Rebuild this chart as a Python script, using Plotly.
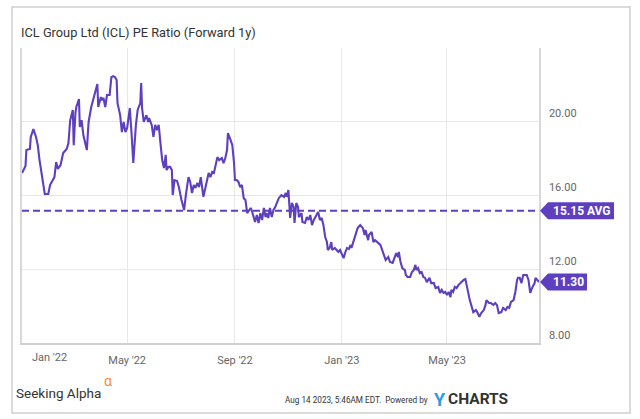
import plotly.graph_objects as go

# ---------------- data ----------------
dates = ["2022-01-01","2022-01-05","2022-01-06","2022-01-10","2022-01-11","2022-01-14","2022-01-17","2022-01-19","2022-01-21","2022-01-24",
"2022-01-27","2022-01-31","2022-02-02","2022-02-07","2022-02-09","2022-02-11","2022-02-14","2022-02-17","2022-02-21","2022-02-23",
"2022-02-25","2022-02-28","2022-03-01","2022-03-03","2022-03-04","2022-03-07","2022-03-08","2022-03-10","2022-03-12","2022-03-16",
"2022-03-18","2022-03-21","2022-03-23","2022-03-26","2022-03-28","2022-03-29","2022-04-01","2022-04-02","2022-04-04","2022-04-06",
"2022-04-08","2022-04-11","2022-04-13","2022-04-15",
"2022-04-17","2022-04-19","2022-04-20","2022-04-23","2022-04-25","2022-04-27","2022-04-29","2022-05-01","2022-05-04","2022-05-06",
"2022-05-08","2022-05-11","2022-05-13","2022-05-16","2022-05-17","2022-05-18","2022-05-20","2022-05-23","2022-05-25","2022-05-26",
"2022-05-29","2022-05-31","2022-06-02","2022-06-04","2022-06-06","2022-06-08","2022-06-10","2022-06-12","2022-06-14","2022-06-15",
"2022-06-17","2022-06-19","2022-06-21","2022-06-22","2022-06-24","2022-06-27","2022-06-29","2022-07-02","2022-07-05","2022-07-07",
"2022-07-10","2022-07-12","2022-07-14","2022-07-16","2022-07-18","2022-07-20","2022-07-22","2022-07-24",
"2022-07-27","2022-07-30","2022-08-02","2022-08-04","2022-08-06","2022-08-08","2022-08-10","2022-08-12","2022-08-14","2022-08-17",
"2022-08-19","2022-08-21","2022-08-23","2022-08-24","2022-08-27","2022-08-29","2022-08-31","2022-09-01","2022-09-03","2022-09-05",
"2022-09-07","2022-09-09","2022-09-11","2022-09-13","2022-09-15","2022-09-17","2022-09-19","2022-09-20","2022-09-22","2022-09-24",
"2022-09-26","2022-09-28","2022-09-30","2022-10-02","2022-10-04","2022-10-06","2022-10-07","2022-10-09","2022-10-11","2022-10-13",
"2022-10-15","2022-10-17","2022-10-21","2022-10-24","2022-10-27","2022-10-29","2022-10-30",
"2022-11-01","2022-11-03","2022-11-05","2022-11-07","2022-11-08","2022-11-10","2022-11-12","2022-11-13","2022-11-16","2022-11-17",
"2022-11-20","2022-11-22","2022-11-24","2022-11-26","2022-11-28","2022-11-30","2022-12-02","2022-12-05","2022-12-07","2022-12-09",
"2022-12-11","2022-12-13","2022-12-15","2022-12-16","2022-12-18","2022-12-20","2022-12-21","2022-12-24","2022-12-26","2022-12-28",
"2022-12-30",
"2023-01-01","2023-01-03","2023-01-05","2023-01-07","2023-01-09","2023-01-11","2023-01-12","2023-01-14","2023-01-16","2023-01-19",
"2023-01-22","2023-01-25","2023-01-27","2023-01-28","2023-01-31","2023-02-01","2023-02-04","2023-02-06","2023-02-08","2023-02-11",
"2023-02-14","2023-02-16","2023-02-18","2023-02-20","2023-02-23","2023-02-25","2023-02-28","2023-03-02","2023-03-04","2023-03-06",
"2023-03-07","2023-03-09","2023-03-11","2023-03-14","2023-03-15","2023-03-17","2023-03-20","2023-03-22","2023-03-24","2023-03-26",
"2023-03-27","2023-03-29","2023-03-31","2023-04-02","2023-04-04","2023-04-06","2023-04-08","2023-04-11","2023-04-13","2023-04-16",
"2023-04-18","2023-04-21","2023-04-23","2023-04-25","2023-04-27","2023-04-29","2023-05-01","2023-05-03","2023-05-05","2023-05-06",
"2023-05-08","2023-05-10","2023-05-12","2023-05-14","2023-05-17","2023-05-20","2023-05-22","2023-05-25","2023-05-27","2023-05-31",
"2023-06-03","2023-06-05","2023-06-07","2023-06-09","2023-06-12","2023-06-14","2023-06-15","2023-06-18","2023-06-20","2023-06-23",
"2023-06-25","2023-06-27","2023-06-29","2023-07-02","2023-07-04","2023-07-07","2023-07-09","2023-07-11","2023-07-13","2023-07-16",
"2023-07-18","2023-07-20","2023-07-21","2023-07-23","2023-07-25","2023-07-27","2023-07-31","2023-08-02","2023-08-04","2023-08-06",
"2023-08-09","2023-08-10","2023-08-14"]

pe_ratio = [17.19,17.57,18.43,18.49,19.14,19.56,19.14,18.70,17.89,16.97,
16.06,16.06,16.54,16.97,17.78,17.41,17.62,18.27,18.49,18.81,
20.05,20.60,18.70,20.44,20.76,21.19,19.68,20.05,19.24,18.43,
19.95,20.76,21.13,21.57,22.00,20.76,21.30,21.13,21.25,20.76,
21.41,21.41,22.38,22.43,
22.38,22.22,20.97,20.32,19.40,19.95,19.40,19.62,20.70,19.35,
17.73,19.79,20.60,20.97,22.06,20.70,19.95,20.32,19.95,20.16,
19.79,19.14,19.79,19.51,19.79,18.81,17.89,17.46,18.17,17.35,
17.52,17.52,17.35,16.00,16.81,16.76,16.43,15.73,15.19,16.00,
16.97,16.71,16.11,16.54,16.38,16.65,16.43,16.97,
15.90,16.54,17.19,16.97,17.24,17.19,17.73,18.05,17.89,18.00,
17.73,18.00,18.43,19.35,18.98,18.70,17.73,16.81,16.81,16.71,
16.43,16.54,15.83,15.73,15.02,15.19,15.30,15.19,14.81,14.54,
14.92,14.49,15.02,14.65,15.30,14.81,15.02,14.76,15.30,14.81,
15.19,15.35,15.83,16.00,15.90,16.11,15.90,
16.27,14.76,15.57,15.35,14.49,15.57,15.35,14.81,15.02,14.54,
14.49,14.81,14.65,14.92,14.37,14.65,14.81,15.08,14.65,14.76,
14.37,13.73,13.46,13.03,13.14,13.46,13.03,13.14,13.03,12.92,
13.03,
12.75,12.59,12.92,13.14,13.08,13.30,13.14,13.46,13.84,14.21,
14.37,14.21,13.84,14.11,13.56,13.84,14.00,13.46,13.56,13.40,
13.30,13.03,12.75,12.49,12.65,12.38,12.33,12.59,12.86,12.65,
12.92,12.38,12.05,11.94,11.68,11.57,11.57,11.84,11.94,12.22,
11.94,12.05,11.78,11.84,11.57,11.52,11.29,11.52,11.24,11.24,
10.97,11.03,10.71,10.87,10.71,10.76,10.59,10.76,10.48,10.87,
10.76,11.03,10.97,11.13,11.29,11.41,11.46,10.71,10.32,9.67,
9.78,9.62,9.41,9.62,9.78,10.06,10.32,10.16,10.16,10.06,
10.16,10.06,9.62,9.67,9.90,9.78,9.95,9.90,10.22,10.32,
10.76,11.41,11.52,11.52,11.24,11.68,11.68,11.41,10.71,10.97,
11.24,11.52,11.30]

assert len(dates) == len(pe_ratio), (len(dates), len(pe_ratio))

avg_value = 15.15
last_value = 11.30
y_ticks = [8, 12, 16, 20]
x_ticks = ["2022-05-01", "2022-09-01", "2023-01-01", "2023-05-01"]
x_ticktext = ["May '22", "Sep '22", "Jan '23", "May '23"]
first_tick_label = "Jan '22"
x_range = ["2022-01-01", "2023-08-14"]
title_text = "ICL Group Ltd (ICL) PE Ratio (Forward 1y)"

# ---------------- layout geometry ----------------
W, H = 640, 419
L, R, T, B = 22, 101, 48, 76
PW, PH = W - L - R, H - T - B
YMIN, YMAX = 8, 23.95
PURPLE = "#5E3FC0"
FONT = "Roboto, 'Noto Sans', sans-serif"


def fx(px):
    return (px - L) / PW


def fy(py):
    return (H - B - py) / PH


def val_py(v):
    return (H - B) - (v - YMIN) / (YMAX - YMIN) * PH


fig = go.Figure()
fig.add_trace(go.Scatter(x=x_range, y=[avg_value, avg_value], mode="lines",
                         line=dict(color=PURPLE, width=2, dash="7px,4px"),
                         hoverinfo="skip", showlegend=False))
fig.add_trace(go.Scatter(x=dates, y=pe_ratio, mode="lines",
                         line=dict(color=PURPLE, width=2.1),
                         showlegend=False))

shapes = []
# outer frame
shapes.append(dict(type="rect", xref="paper", yref="paper",
                   x0=fx(12), x1=fx(630), y0=fy(413), y1=fy(7),
                   line=dict(color="#cfcfcf", width=1.5), fillcolor="rgba(0,0,0,0)", layer="above"))


def tag(v, right, text):
    c = val_py(v)
    h = 8.5
    tip, body = L + PW + 1, L + PW + 9
    path = (f"M {fx(tip)} {fy(c)} L {fx(body)} {fy(c - h)} L {fx(right)} {fy(c - h)} "
            f"L {fx(right)} {fy(c + h)} L {fx(body)} {fy(c + h)} Z")
    shapes.append(dict(type="path", xref="paper", yref="paper", path=path,
                       fillcolor=PURPLE, line=dict(width=0)))
    return dict(x=fx((body + right) / 2 + 0.5), y=fy(c), xref="paper", yref="paper",
                text=f"<b>{text}</b>", showarrow=False, xanchor="center", yanchor="middle",
                font=dict(family=FONT, size=12, color="white"))


annotations = []
annotations.append(tag(avg_value, 614, f"{avg_value:.2f} AVG"))
annotations.append(tag(last_value, 587, f"{last_value:.2f}"))

annotations.append(dict(x=fx(19), y=fy(33), xref="paper", yref="paper", text=title_text,
                        showarrow=False, xanchor="left", yanchor="middle",
                        font=dict(family=FONT, size=12.8, color="#333333")))
annotations.append(dict(x=fx(30), y=fy(357), xref="paper", yref="paper", text=first_tick_label,
                        showarrow=False, xanchor="left", yanchor="middle",
                        font=dict(family=FONT, size=11, color="#666666")))
# footer
annotations.append(dict(x=fx(14), y=fy(393), xref="paper", yref="paper", text="Seeking Alpha",
                        showarrow=False, xanchor="left", yanchor="middle",
                        font=dict(family=FONT, size=13.5, color="#333333")))
annotations.append(dict(x=fx(102), y=fy(381), xref="paper", yref="paper", text="α",
                        showarrow=False, xanchor="left", yanchor="middle",
                        font=dict(family=FONT, size=14, color="#F0903A")))
annotations.append(dict(x=fx(430), y=fy(400), xref="paper", yref="paper",
                        text="Aug 14 2023, 5:46AM EDT.  Powered by",
                        showarrow=False, xanchor="right", yanchor="middle",
                        font=dict(family=FONT, size=8.2, color="#333333")))
annotations.append(dict(x=fx(432), y=fy(399), xref="paper", yref="paper", text="<b>Y</b>",
                        showarrow=False, xanchor="left", yanchor="middle",
                        font=dict(family=FONT, size=18, color="#2F9BD8")))
annotations.append(dict(x=fx(446), y=fy(399), xref="paper", yref="paper", text="<b>CHARTS</b>",
                        showarrow=False, xanchor="left", yanchor="middle",
                        font=dict(family=FONT, size=15.5, color="#333333")))

fig.update_layout(
    width=W, height=H,
    margin=dict(l=L, r=R, t=T, b=B, pad=0),
    paper_bgcolor="white", plot_bgcolor="white",
    shapes=shapes, annotations=annotations,
    showlegend=False,
    xaxis=dict(type="date", range=x_range, tickvals=x_ticks, ticktext=x_ticktext,
               showgrid=True, gridcolor="#e8e8e8", gridwidth=1,
               showline=True, linecolor="#d0d0d0", linewidth=1.5,
               ticks="", ticklabelstandoff=6,
               tickfont=dict(family=FONT, size=11, color="#666666"),
               zeroline=False, fixedrange=True),
    yaxis=dict(range=[YMIN, YMAX], tickvals=y_ticks, tickformat=".2f", side="right",
               showgrid=True, gridcolor="#e8e8e8", gridwidth=1,
               showline=True, linecolor="#d8d8d8", linewidth=1.5, mirror=True,
               ticks="", ticklabelposition="outside top", ticklabelstandoff=6,
               tickfont=dict(family=FONT, size=11, color="#666666"),
               zeroline=False, fixedrange=True),
)

fig.write_html("out.html", config={"displayModeBar": False},
               post_script="document.body.style.margin='0';document.body.style.overflow='hidden';")
